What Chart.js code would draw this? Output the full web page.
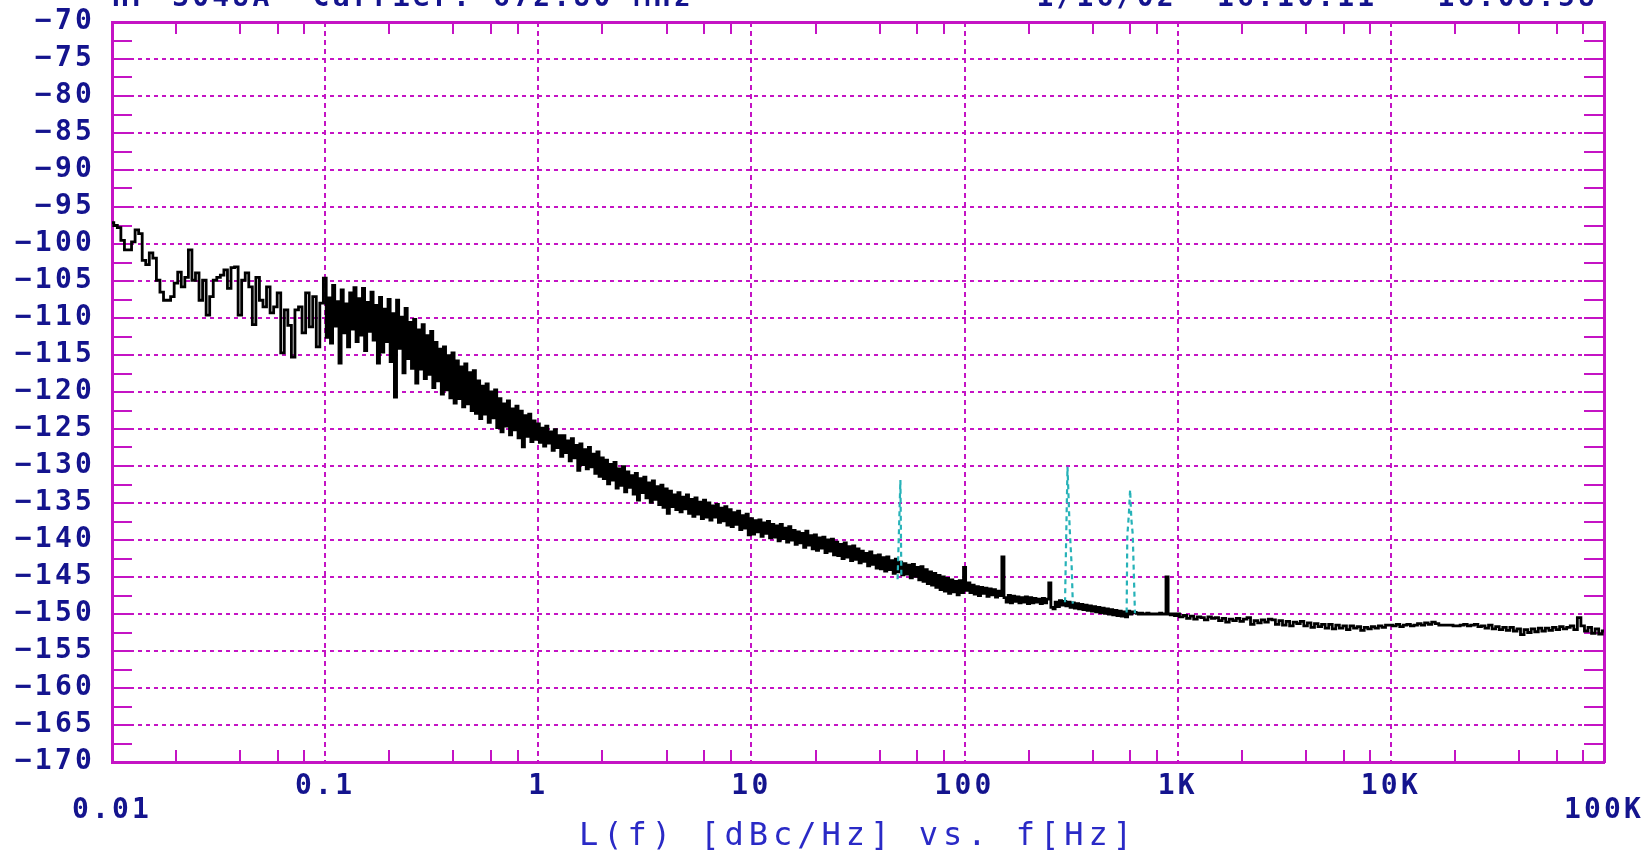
<!DOCTYPE html>
<html>
<head>
<meta charset="utf-8">
<title>L(f) [dBc/Hz] vs. f[Hz]</title>
<script src="https://cdn.jsdelivr.net/npm/chart.js@4.4.1/dist/chart.umd.min.js"></script>
<style>
  html, body { margin: 0; padding: 0; background: #ffffff; overflow: hidden; }
  canvas { display: block; }
</style>
</head>
<body>
<canvas id="plot" width="1651" height="855"></canvas>
<script>
// ---- axis definitions -------------------------------------------------
const freqDecades = [0.01, 0.1, 1, 10, 100, 1000, 10000, 100000];
const freqDecadeLabels = ['0.01', '0.1', '1', '10', '100', '1K', '10K', '100K'];
const freqMinorSteps = [2, 4, 6, 8];
const levelMin = -170;
const levelMax = -70;
const levelLabelStep = 5;
const levelTickStep = 2.5;

const headerLeft = 'HP 3048A  Carrier: 672.80 MHz';
const headerRight = '1/16/02  16:10:11 - 16:08:58';
const axisTitle = 'L(f) [dBc/Hz] vs. f[Hz]';

// ---- measured single-sideband phase noise (dBc/Hz) --------------------
// Each block is sampled evenly in log frequency from its start frequency.
const segmentStartHz = [0.01, 0.1, 1, 10, 100, 1000];
const segmentPointsPerDecade = [60, 100, 100, 100, 100, 60];

// 0.01 Hz .. 0.1 Hz
const levels001 = [
  -97.1, -97.5, -97.8, -99.5, -100.8, -100.8, -99.7, -98.1, -98.6, -102.2,
  -102.8, -101.2, -101.9, -104.9, -106.5, -107.6, -107.6, -107.1, -105.3, -103.8,
  -105.8, -104.5, -100.8, -104.9, -103.9, -107.6, -104.9, -109.6, -107.1, -104.9,
  -104.5, -104.2, -103.5, -106.0, -103.2, -103.1, -109.6, -104.9, -103.9, -105.8,
  -110.9, -104.5, -107.6, -108.5, -105.8, -109.3, -108.5, -106.6, -114.7, -108.9,
  -111.0, -115.3, -108.9, -108.5, -112.0, -106.6, -111.2, -107.1, -113.9, -108.0
];
// 0.1 Hz .. 1 Hz
const levels01 = [
  -104.6, -112.6, -107.3, -113.4, -105.6, -111.1, -107.8, -116.1, -106.2, -112.0,
  -108.1, -113.9, -106.6, -111.5, -105.9, -113.2, -107.4, -112.3, -106.0, -114.4,
  -107.9, -111.8, -106.5, -113.0, -108.3, -116.1, -107.2, -114.6, -108.8, -113.2,
  -107.5, -115.9, -109.4, -120.7, -107.6, -114.1, -109.9, -117.4, -108.7, -115.5,
  -110.6, -116.8, -110.2, -118.8, -111.6, -116.9, -110.9, -118.2, -112.4, -117.6,
  -111.8, -119.4, -113.3, -118.5, -114.2, -120.3, -113.9, -119.7, -115.1, -120.8,
  -114.7, -121.5, -115.8, -120.9, -116.6, -122.0, -116.2, -121.6, -117.4, -122.5,
  -117.1, -122.9, -118.5, -123.6, -119.2, -123.0, -118.9, -124.1, -120.0, -123.5,
  -119.7, -124.8, -120.9, -125.4, -121.6, -124.6, -121.2, -125.8, -122.3, -125.1,
  -121.9, -126.2, -122.6, -127.4, -123.2, -126.0, -123.0, -126.7, -123.9, -126.4
];
// 1 Hz .. 10 Hz
const levels1 = [
  -124.3, -126.8, -124.9, -127.3, -124.6, -126.9, -125.4, -127.9, -125.1, -127.5,
  -125.9, -128.7, -125.9, -128.2, -126.6, -129.3, -126.3, -128.9, -127.2, -130.6,
  -127.0, -129.8, -127.8, -130.4, -127.5, -130.1, -128.4, -131.0, -128.1, -131.4,
  -128.9, -131.7, -129.2, -132.4, -129.8, -131.9, -129.5, -133.0, -130.4, -132.6,
  -130.1, -133.5, -130.8, -132.9, -131.3, -133.8, -131.0, -134.6, -131.7, -133.6,
  -131.5, -134.3, -132.3, -134.9, -132.0, -134.5, -132.8, -135.2, -132.6, -135.6,
  -133.1, -136.4, -133.4, -135.5, -133.9, -135.9, -133.6, -136.2, -134.2, -135.8,
  -133.9, -136.4, -134.5, -136.8, -134.3, -136.5, -134.9, -137.1, -134.6, -136.9,
  -135.0, -137.3, -135.4, -136.9, -135.2, -137.6, -135.7, -137.4, -135.5, -138.0,
  -135.9, -138.2, -136.3, -137.9, -136.1, -138.6, -136.7, -138.4, -136.5, -139.3
];
// 10 Hz .. 100 Hz
const levels10 = [
  -137.1, -139.2, -137.4, -138.9, -137.3, -139.5, -137.7, -139.1, -137.5, -139.7,
  -137.9, -139.6, -138.1, -140.1, -137.9, -139.8, -138.4, -140.3, -138.2, -140.0,
  -138.7, -140.6, -138.9, -140.4, -139.1, -141.0, -138.8, -140.7, -139.4, -141.2,
  -139.3, -141.4, -139.7, -141.1, -139.6, -141.7, -140.0, -141.5, -139.9, -142.0,
  -140.3, -142.1, -140.6, -142.5, -140.4, -142.3, -140.9, -142.8, -140.8, -142.6,
  -141.2, -143.1, -141.5, -142.9, -141.8, -143.5, -141.6, -143.3, -142.1, -143.8,
  -142.0, -143.9, -142.4, -144.2, -142.3, -144.0, -142.8, -144.5, -142.6, -144.3,
  -143.0, -144.7, -143.2, -144.6, -143.4, -145.1, -143.3, -144.9, -143.7, -145.4,
  -143.6, -145.6, -144.0, -145.9, -144.3, -146.1, -144.5, -146.4, -144.8, -146.7,
  -145.0, -146.9, -145.2, -147.2, -145.4, -147.0, -145.6, -147.4, -145.5, -147.1
];
// 100 Hz .. 1 kHz (line-related spurs at 100, 150, 250 and ~890 Hz)
const levels100 = [
  -143.7, -146.8, -145.8, -147.1, -146.1, -147.3, -146.3, -147.5, -146.4, -147.2,
  -146.5, -147.6, -146.6, -147.4, -146.7, -147.7, -146.9, -147.5, -142.3, -147.8,
  -148.4, -147.5, -148.5, -147.6, -148.3, -147.7, -148.5, -147.8, -148.4, -147.7,
  -148.6, -147.8, -148.5, -147.9, -148.4, -148.0, -148.6, -147.9, -148.5, -148.0,
  -145.8, -149.1, -149.3, -148.4, -149.0, -148.2, -148.8, -148.3, -148.9, -148.4,
  -149.1, -148.5, -149.2, -148.6, -149.3, -148.7, -149.4, -148.8, -149.5, -148.9,
  -149.6, -149.0, -149.7, -149.1, -149.8, -149.2, -149.9, -149.3, -150.0, -149.4,
  -150.1, -149.5, -150.2, -149.6, -150.3, -149.7, -150.4, -149.6, -150.0, -149.7,
  -149.8, -149.9, -150.0, -149.9, -150.0, -150.0, -149.9, -150.0, -150.0, -150.0,
  -150.0, -150.0, -149.9, -150.0, -150.0, -145.0, -150.0, -150.1, -150.0, -150.2
];
// 1 kHz .. 100 kHz
const levels1k = [
  -150.0, -150.4, -150.2, -150.6, -150.3, -150.7, -150.4, -150.5, -150.8, -150.4,
  -150.6, -150.5, -150.9, -150.6, -151.1, -150.7, -150.9, -150.6, -151.0, -150.7,
  -150.5, -151.4, -150.9, -151.2, -150.8, -151.1, -150.7, -150.8, -151.4, -150.9,
  -151.5, -151.0, -151.6, -151.1, -151.3, -151.0, -151.6, -151.2, -151.8, -151.3,
  -151.7, -151.4, -151.9, -151.4, -152.0, -151.5, -151.9, -151.6, -152.1, -151.6,
  -151.9, -151.7, -152.2, -151.8, -152.0, -151.7, -151.9, -151.6, -151.8, -151.5,
  -151.5, -151.6, -151.4, -151.7, -151.5, -151.4, -151.6, -151.5, -151.3, -151.5,
  -151.2, -151.4, -151.1, -151.3, -151.5, -151.5, -151.5, -151.5, -151.6, -151.6,
  -151.5, -151.4, -151.6, -151.5, -151.4, -151.7, -151.6, -151.9, -151.5, -152.0,
  -151.7, -152.1, -151.8, -152.2, -151.8, -152.3, -152.0, -152.8, -152.1, -152.5,
  -152.0, -152.4, -151.9, -152.3, -151.9, -152.2, -151.8, -152.1, -151.7, -152.0,
  -151.8, -151.6, -152.1, -150.5, -151.6, -152.3, -151.8, -152.6, -152.0, -152.7,
  -152.3
];

// ---- spurious responses (separate overlay trace) ----------------------
const spur50Hz = [48.5, 50, 50.5];
const spur50Level = [-145.3, -131.9, -144.8];
const spur300Hz = [296, 300, 304, 311, 318, 322];
const spur300Level = [-148.4, -139.0, -130.1, -138.2, -143.5, -148.6];
const spur600Hz = [576, 580, 590, 598, 606, 615, 630];
const spur600Level = [-149.8, -139.5, -136.5, -133.2, -137.2, -139.2, -149.9];

// ---- styling ----------------------------------------------------------
const MAGENTA = '#c414c4';
const NAVY = '#14148e';
const TITLE_BLUE = '#2a2ac6';
const CYAN = '#26b2b8';
const CLEAR = 'rgba(0,0,0,0)';
const MONO = '"DejaVu Sans Mono", "Liberation Mono", monospace';
const LABEL_SPACING = '3.2px';
const TITLE_SPACING = '5px';

// ---- assemble points --------------------------------------------------
const segments = [levels001, levels01, levels1, levels10, levels100, levels1k];
const tracePoints = [];
segments.forEach((vals, s) => {
  vals.forEach((v, i) => {
    tracePoints.push({ x: segmentStartHz[s] * Math.pow(10, i / segmentPointsPerDecade[s]), y: v });
  });
});
const toPoints = (fs, ls) => fs.map((f, i) => ({ x: f, y: ls[i] }));

const freqTicks = [];
freqDecades.forEach((d, k) => {
  freqTicks.push(d);
  if (k < freqDecades.length - 1) freqMinorSteps.forEach(m => freqTicks.push(d * m));
});
const levelTicks = [];
for (let v = levelMin; v <= levelMax + 1e-9; v += levelTickStep) levelTicks.push(v);

const decadeIndex = v => freqDecades.findIndex(d => Math.abs(Math.log10(v / d)) < 1e-6);
const isInnerDecade = v => { const k = decadeIndex(v); return k > 0 && k < freqDecades.length - 1; };
const isLabelLevel = v => Math.abs(v % levelLabelStep) < 1e-9;
const isInnerLabelLevel = v => isLabelLevel(v) && v > levelMin && v < levelMax;

// fixed box sizes around the plotting frame, no extra label margins
const fixBox = (size, horizontal) => axis => {
  if (horizontal) axis.height = size; else axis.width = size;
  axis.paddingTop = 0; axis.paddingBottom = 0; axis.paddingLeft = 0; axis.paddingRight = 0;
};

// wider character pitch for the axis lettering
const textSpacing = {
  id: 'textSpacing',
  beforeDraw(chart) {
    const wrap = (scale, method, spacing) => {
      const flag = '_spaced_' + method;
      if (!scale || scale[flag]) return;
      const original = scale[method];
      scale[method] = function (...args) {
        const ctx = this.ctx;
        ctx.save();
        ctx.letterSpacing = spacing;
        original.apply(this, args);
        ctx.restore();
      };
      scale[flag] = true;
    };
    wrap(chart.scales.x, 'drawLabels', LABEL_SPACING);
    wrap(chart.scales.y, 'drawLabels', LABEL_SPACING);
    wrap(chart.scales.x, 'drawTitle', TITLE_SPACING);
  },
  afterDraw(chart) {
    const { ctx, chartArea } = chart;
    ctx.save();
    ctx.letterSpacing = LABEL_SPACING;
    ctx.font = 'bold 28px ' + MONO;
    ctx.fillStyle = NAVY;
    ctx.textBaseline = 'alphabetic';
    ctx.textAlign = 'left';
    ctx.fillText(headerLeft, chartArea.left, 6);
    ctx.textAlign = 'right';
    ctx.fillText(headerRight, chartArea.right - 6, 6);
    ctx.restore();
  }
};

const freqAxisBase = {
  type: 'logarithmic',
  min: freqDecades[0],
  max: freqDecades[freqDecades.length - 1],
  afterBuildTicks: axis => { axis.ticks = freqTicks.map(v => ({ value: v })); }
};
const levelAxisBase = {
  type: 'linear',
  min: levelMin,
  max: levelMax,
  afterBuildTicks: axis => { axis.ticks = levelTicks.map(v => ({ value: v })); }
};

new Chart(document.getElementById('plot'), {
  type: 'line',
  data: {
    datasets: [
      { label: 'spur 50 Hz', data: toPoints(spur50Hz, spur50Level), borderColor: CYAN, borderWidth: 2.2,
        borderDash: [5, 4], pointRadius: 0, order: 0, xAxisID: 'x', yAxisID: 'y' },
      { label: 'spur 300 Hz', data: toPoints(spur300Hz, spur300Level), borderColor: CYAN, borderWidth: 2.2,
        borderDash: [5, 4], pointRadius: 0, order: 0, xAxisID: 'x', yAxisID: 'y' },
      { label: 'spur 600 Hz', data: toPoints(spur600Hz, spur600Level), borderColor: CYAN, borderWidth: 2.2,
        borderDash: [5, 4], pointRadius: 0, order: 0, xAxisID: 'x', yAxisID: 'y' },
      { label: 'L(f)', data: tracePoints, borderColor: '#000000', borderWidth: 2.8, stepped: 'middle',
        pointRadius: 0, order: 1, xAxisID: 'x', yAxisID: 'y' }
    ]
  },
  options: {
    responsive: false,
    animation: false,
    events: [],
    layout: { padding: 0 },
    plugins: { legend: { display: false }, title: { display: false }, tooltip: { enabled: false } },
    scales: {
      x: Object.assign({}, freqAxisBase, {
        position: 'bottom',
        afterFit: fixBox(93, true),
        ticks: {
          autoSkip: false, maxRotation: 0, minRotation: 0, padding: 24.5, color: NAVY,
          font: { family: MONO, weight: 'bold', size: 28, lineHeight: '24px' },
          callback: value => {
            const k = decadeIndex(value);
            if (k < 0) return '';
            return (k === 0 || k === freqDecades.length - 1) ? ['', freqDecadeLabels[k]] : freqDecadeLabels[k];
          }
        },
        grid: {
          drawOnChartArea: true, lineWidth: 2,
          color: c => (c.tick && isInnerDecade(c.tick.value)) ? MAGENTA : CLEAR,
          drawTicks: true, tickLength: -12, tickWidth: 2,
          tickColor: c => (c.tick && decadeIndex(c.tick.value) < 0) ? MAGENTA : CLEAR
        },
        border: { display: true, color: MAGENTA, width: 3, dash: [5, 4] },
        title: {
          display: true, text: axisTitle, color: TITLE_BLUE,
          font: { family: MONO, weight: 'normal', size: 32, lineHeight: 1 },
          padding: { top: 0, bottom: 2 }
        }
      }),
      x2: Object.assign({}, freqAxisBase, {
        position: 'top',
        afterFit: fixBox(22, true),
        ticks: { display: false, autoSkip: false, maxRotation: 0 },
        grid: {
          drawOnChartArea: false, lineWidth: 2, drawTicks: true, tickLength: -12, tickWidth: 2,
          tickColor: c => (c.tick && decadeIndex(c.tick.value) < 0) ? MAGENTA : CLEAR
        },
        border: { display: true, color: MAGENTA, width: 3 }
      }),
      y: Object.assign({}, levelAxisBase, {
        position: 'left',
        afterFit: fixBox(112, false),
        ticks: {
          autoSkip: false, padding: 37, color: NAVY,
          font: { family: MONO, weight: 'bold', size: 28 },
          callback: value => isLabelLevel(value) ? String(value).replace('-', '\u2212') : ''
        },
        grid: {
          drawOnChartArea: true, lineWidth: 2,
          color: c => (c.tick && isInnerLabelLevel(c.tick.value)) ? MAGENTA : CLEAR,
          drawTicks: true, tickLength: -20, tickWidth: 2, tickColor: MAGENTA
        },
        border: { display: true, color: MAGENTA, width: 3, dash: [4, 4] }
      }),
      y2: Object.assign({}, levelAxisBase, {
        position: 'right',
        afterFit: fixBox(47, false),
        ticks: { display: false, autoSkip: false },
        grid: {
          drawOnChartArea: false, lineWidth: 2, drawTicks: true, tickLength: -20, tickWidth: 2,
          tickColor: MAGENTA
        },
        border: { display: true, color: MAGENTA, width: 3 }
      })
    }
  },
  plugins: [textSpacing]
});
</script>
</body>
</html>
